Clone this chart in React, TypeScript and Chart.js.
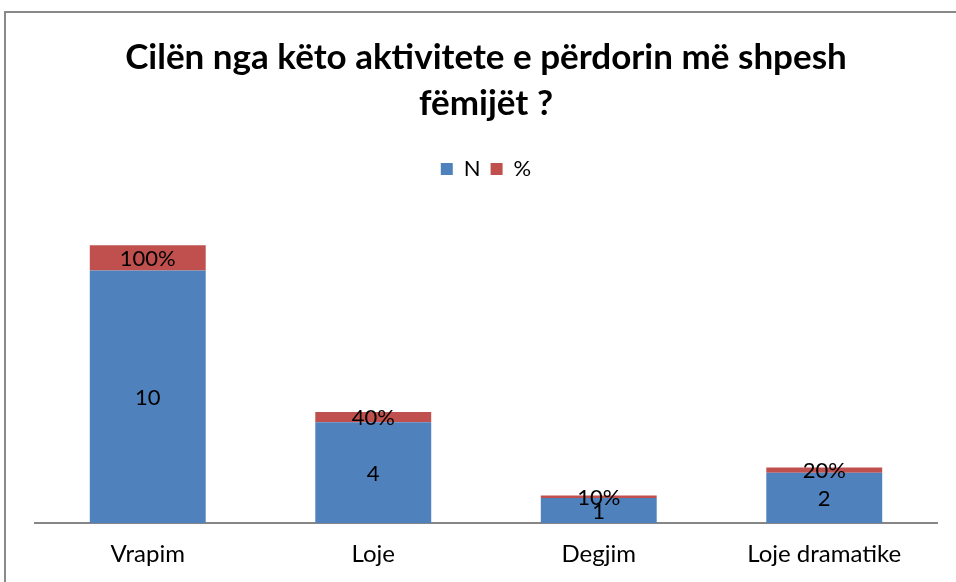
import React, { useEffect, useRef } from "react";
import { Chart, registerables } from "chart.js";

Chart.register(...registerables);

const categories = ["Vrapim", "Loje", "Degjim", "Loje dramatike"];
const nValues = [10, 4, 1, 2];
const pctValues = [1.0, 0.4, 0.1, 0.2];
const nLabels = ["10", "4", "1", "2"];
const pctLabels = ["100%", "40%", "10%", "20%"];
const titleLines = ["Cilën nga këto aktivitete e përdorin më shpesh", "fëmijët ?"];

const FONT = "Lato, 'Liberation Sans', sans-serif";

const segmentLabels = {
  id: "segmentLabels",
  afterDatasetsDraw(chart: any) {
    const ctx = chart.ctx;
    ctx.save();
    ctx.font = `22px ${FONT}`;
    ctx.fillStyle = "#000000";
    ctx.textAlign = "center";
    ctx.textBaseline = "middle";
    const labelSets = [nLabels, pctLabels];
    chart.data.datasets.forEach((_ds: any, di: number) => {
      const meta = chart.getDatasetMeta(di);
      meta.data.forEach((bar: any, i: number) => {
        const y = (bar.y + bar.base) / 2;
        ctx.fillText(labelSets[di][i], bar.x, y + 1);
      });
    });
    ctx.restore();
  },
};

export default function App() {
  const ref = useRef<HTMLCanvasElement>(null);
  useEffect(() => {
    document.body.style.margin = "0";
    const chart = new Chart(ref.current!, {
      type: "bar",
      data: {
        labels: categories,
        datasets: [
          {
            label: "N",
            data: nValues,
            backgroundColor: "#4F81BD",
            barPercentage: 0.514,
            categoryPercentage: 1,
          },
          {
            label: "%",
            data: pctValues,
            backgroundColor: "#C0504D",
            barPercentage: 0.514,
            categoryPercentage: 1,
          },
        ],
      },
      options: {
        animation: false,
        responsive: false,
        maintainAspectRatio: false,
        layout: { padding: { left: 35, right: 19, top: 0, bottom: 4 } },
        plugins: {
          title: {
            display: true,
            text: titleLines,
            color: "#000000",
            font: { family: FONT, size: 35, weight: "bold", lineHeight: 1.314 },
            padding: { top: 35, bottom: 21 },
          },
          legend: {
            display: true,
            position: "top",
            labels: {
              boxWidth: 12,
              boxHeight: 12,
              color: "#000000",
              font: { family: FONT, size: 22 },
              padding: 10,
            },
          },
          tooltip: { enabled: false },
        },
        scales: {
          x: {
            stacked: true,
            grid: { display: false },
            border: { display: true, color: "#868686", width: 2 },
            ticks: { color: "#000000", font: { family: FONT, size: 24 }, padding: 9 },
          },
          y: {
            stacked: true,
            display: false,
            min: 0,
            max: 13.19,
          },
        },
      },
      plugins: [segmentLabels],
    });
    return () => chart.destroy();
  }, []);
  return (
    <div style={{ position: "fixed", left: 0, top: 0, width: 956, height: 582, background: "#fff" }}>
      <canvas ref={ref} width={956} height={582} style={{ position: "absolute", left: 0, top: 0 }} />
      <div
        style={{
          position: "absolute",
          left: 4,
          top: 11,
          width: 1000,
          height: 700,
          borderLeft: "2px solid #898989",
          borderTop: "2px solid #898989",
          pointerEvents: "none",
        }}
      />
    </div>
  );
}
